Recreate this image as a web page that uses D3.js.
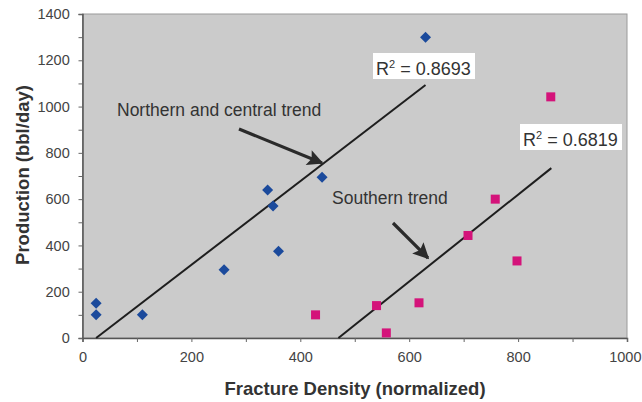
<!DOCTYPE html>
<html>
<head>
<meta charset="utf-8">
<script src="https://cdn.jsdelivr.net/npm/d3@7"></script>
<style>
body { margin:0; background:#fff; }
svg text { font-family: "Liberation Sans", Arial, sans-serif; }
</style>
</head>
<body>
<div id="chart"></div>
<script>
// northern & central wells (blue diamonds)
var northX = [25, 25, 110, 260, 340, 350, 360, 440, 630];
var northY = [150, 100, 100, 295, 640, 570, 375, 695, 1300];
// southern wells (pink squares)
var southX = [428, 540, 558, 618, 708, 758, 798, 860];
var southY = [100, 140, 22, 152, 443, 600, 333, 1042];
// trend line end points [x, y]
var northTrend = [[25, 0], [630, 1093]];
var southTrend = [[470, 0], [861, 734]];
var xTicks = [0, 200, 400, 600, 800, 1000];
var yTicks = [0, 200, 400, 600, 800, 1000, 1200, 1400];

var width = 642, height = 402;
var margin = {top:14, right:15, bottom:64, left:82.5};

var svg = d3.select('#chart').append('svg')
	.attr("width", width)
	.attr("height", height);

var x = d3.scaleLinear().domain([0, 1000]).range([margin.left, width - margin.right]);
var y = d3.scaleLinear().domain([0, 1400]).range([height - margin.bottom, margin.top]);

// plot area
svg.append("rect")
	.attr("x", x(0)).attr("y", y(1400))
	.attr("width", x(1000) - x(0)).attr("height", y(0) - y(1400))
	.attr("fill", "#cbcbcb")
	.attr("stroke", "#9a9a9a")
	.attr("stroke-width", 1);

// axes
var xAxis = svg.append("g")
	.attr("transform", "translate(0," + y(0) + ")")
	.call(d3.axisBottom(x).tickValues(d3.range(0, 1001, 100)).tickSize(4)
		.tickFormat(function(d){ return xTicks.indexOf(d) >= 0 ? d : ""; }));
var yAxis = svg.append("g")
	.attr("transform", "translate(" + x(0) + ",0)")
	.call(d3.axisLeft(y).tickValues(d3.range(0, 1401, 100)).tickSize(4)
		.tickFormat(function(d){ return yTicks.indexOf(d) >= 0 ? d : ""; }));

[xAxis, yAxis].forEach(function(a){
	a.select(".domain").attr("stroke", "#555").attr("stroke-width", 1.5);
	a.selectAll(".tick line").attr("stroke", "#666");
	a.selectAll(".tick text")
		.attr("fill", "#444")
		.style("font-size", "14.5px")
		.style("font-family", "'Liberation Sans', Arial, sans-serif");
});
xAxis.selectAll(".tick text").attr("dy", "1.2em");
// last label sits at the right edge of the page
xAxis.selectAll(".tick text").filter(function(d){ return d === 1000; })
	.attr("text-anchor", "end").attr("x", 641 - x(1000));
yAxis.selectAll(".tick text").attr("dx", "-0.4em");

// trend lines
var line = d3.line().x(function(d){ return x(d[0]); }).y(function(d){ return y(d[1]); });
[northTrend, southTrend].forEach(function(t){
	svg.append("path")
		.attr("d", line(t))
		.attr("fill", "none")
		.attr("stroke", "#1e1e1e")
		.attr("stroke-width", 2);
});

// points
svg.append("g").selectAll("path")
	.data(northX.map(function(v, i){ return [v, northY[i]]; }))
	.enter().append("path")
	.attr("d", "M0,-5.5L5.5,0L0,5.5L-5.5,0Z")
	.attr("transform", function(d){ return "translate(" + x(d[0]) + "," + y(d[1]) + ")"; })
	.attr("fill", "#1b4a9c");

svg.append("g").selectAll("rect")
	.data(southX.map(function(v, i){ return [v, southY[i]]; }))
	.enter().append("rect")
	.attr("x", function(d){ return x(d[0]) - 4.5; })
	.attr("y", function(d){ return y(d[1]) - 4.5; })
	.attr("width", 9).attr("height", 9)
	.attr("fill", "#d4137a");

// R2 labels
function r2Label(px, py, val) {
	var g = svg.append("g").attr("transform", "translate(" + px + "," + py + ")");
	g.append("rect").attr("x", -3).attr("y", -22).attr("width", 102).attr("height", 26).attr("fill", "#fff");
	var t = g.append("text").attr("fill", "#333").style("font-size", "18px");
	t.append("tspan").text("R");
	t.append("tspan").attr("dy", -7).style("font-size", "11px").text("2");
	t.append("tspan").attr("dy", 7).text(" = " + val);
}
r2Label(376, 75, "0.8693");
r2Label(523, 146, "0.6819");

// annotation text
svg.append("text").attr("x", 117).attr("y", 116)
	.attr("fill", "#333").style("font-size", "17.5px")
	.text("Northern and central trend");
svg.append("text").attr("x", 332).attr("y", 204)
	.attr("fill", "#333").style("font-size", "17.5px")
	.text("Southern trend");

// arrows
svg.append("defs").append("marker")
	.attr("id", "head")
	.attr("viewBox", "0 0 10 10")
	.attr("refX", 9).attr("refY", 5)
	.attr("markerWidth", 5.5).attr("markerHeight", 5)
	.attr("markerUnits", "strokeWidth")
	.attr("orient", "auto")
	.append("path").attr("d", "M0,0 L10,5 L0,10 L2,5 Z").attr("fill", "#2a2a2a");

[[239, 129, 322, 163], [393, 223, 428, 258]].forEach(function(a){
	svg.append("line")
		.attr("x1", a[0]).attr("y1", a[1]).attr("x2", a[2]).attr("y2", a[3])
		.attr("stroke", "#2a2a2a").attr("stroke-width", 3.2)
		.attr("marker-end", "url(#head)");
});

// axis titles
svg.append("text")
	.attr("x", 355).attr("y", 395)
	.attr("text-anchor", "middle")
	.attr("fill", "#333")
	.style("font-size", "18.5px").style("font-weight", "bold")
	.text("Fracture Density (normalized)");
svg.append("text")
	.attr("transform", "translate(29,175) rotate(-90)")
	.attr("text-anchor", "middle")
	.attr("fill", "#333")
	.style("font-size", "18.5px").style("font-weight", "bold")
	.text("Production (bbl/day)");
</script>
</body>
</html>
